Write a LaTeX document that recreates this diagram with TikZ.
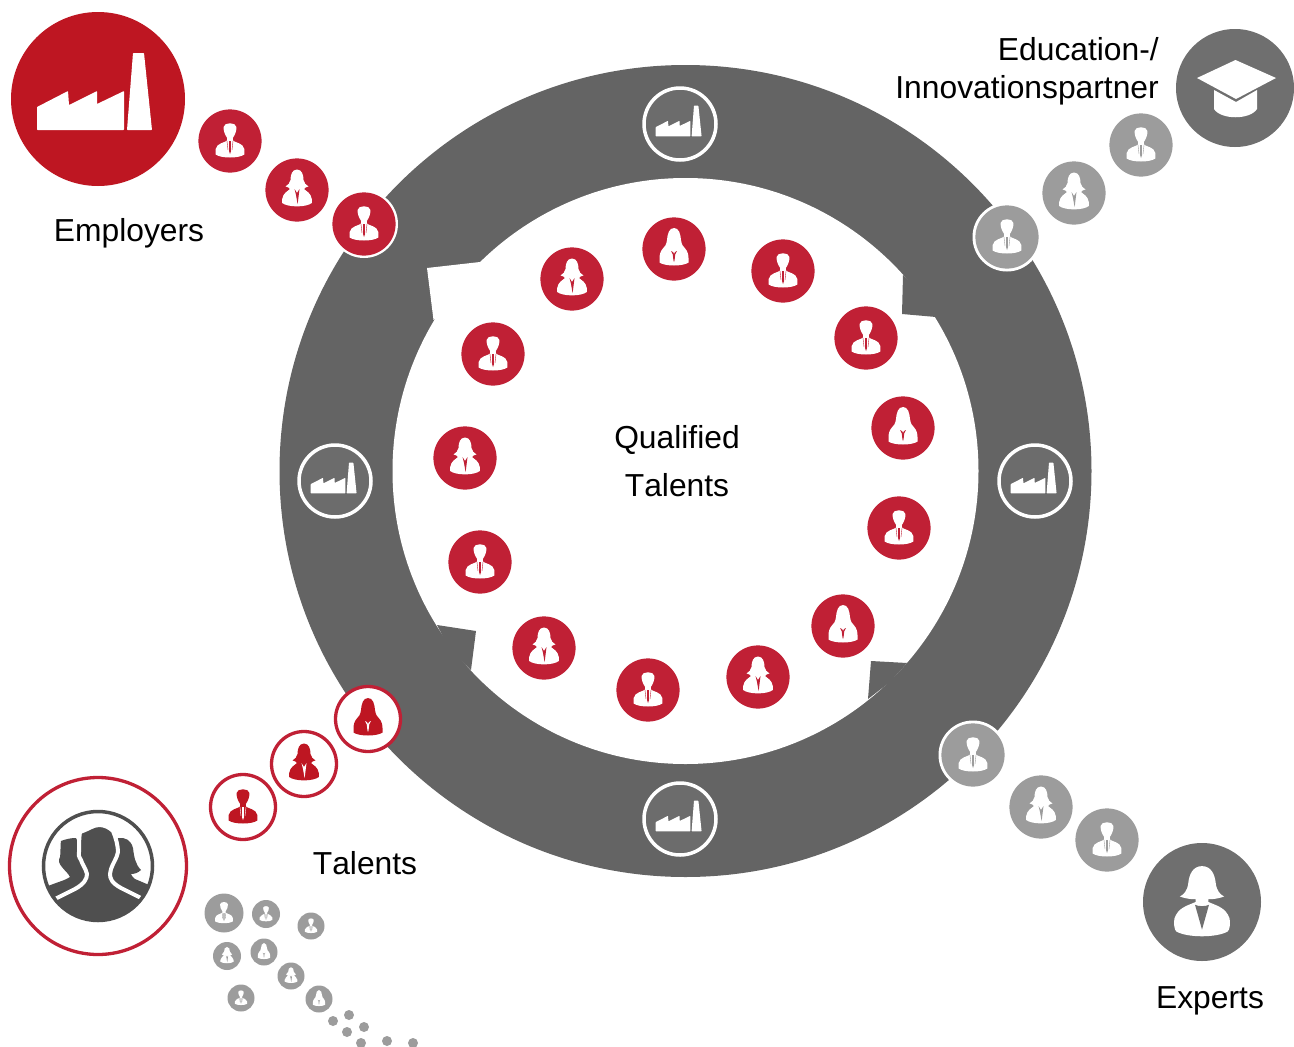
\documentclass[tikz,border=0pt]{standalone}
\usepackage{fontspec}
\setmainfont[Kerning=Off]{Liberation Sans}
\definecolor{ringgrey}{HTML}{646464}
\definecolor{badgegrey}{HTML}{6C6C6C}
\definecolor{darkgrey}{HTML}{6F6F6F}
\definecolor{midgrey}{HTML}{9C9C9C}
\definecolor{peoplegrey}{HTML}{4F4F4F}
\definecolor{bigred}{HTML}{BE1622}
\definecolor{smallred}{HTML}{C02035}
\tikzset{
  disc/.style={circle,inner sep=0pt,outer sep=0pt,draw=none},
  label text/.style={font=\fontsize{31.8}{38}\selectfont,text=black,inner sep=0pt,anchor=base},
  pics/man/.style n args={2}{code={
    \fill[#1] (-2.8,-3) .. controls (-5,-6) and (-6.6,-10) .. (-6.4,-14)
      .. controls (-6,-19) and (6,-19) .. (6.4,-14)
      .. controls (6.6,-10) and (5,-6) .. (2.8,-3) -- (2.8,-.5)
      .. controls (6,2) and (13,2) .. (14.3,8) -- (14.3,13.5)
      .. controls (9,17.5) and (-9,17.5) .. (-14.3,13.5) -- (-14.3,8)
      .. controls (-13,2) and (-6,2) .. (-2.8,-.5) -- cycle;
    \fill[#2] (-.8,0) -- (.8,0) -- (1,10) -- (0,13) -- (-1,10) -- cycle;
    \draw[#2,line width=.4pt] (-3,0) -- (-2,9) (3,0) -- (2,9);
  }},
  pics/flare/.style n args={2}{code={
    \fill[#1] (0,-20.5) .. controls (5,-20.5) and (6.5,-15) .. (6.5,-10)
      .. controls (7.5,-7) and (8.5,-5) .. (11.5,-3.5)
      .. controls (9,-3) and (8,-2.5) .. (7,-1)
      .. controls (9,1) and (14,3) .. (14.8,9) -- (14.8,13)
      .. controls (9,17.5) and (-9,17.5) .. (-14.8,13) -- (-14.8,9)
      .. controls (-14,3) and (-9,1) .. (-7,-1)
      .. controls (-8,-2.5) and (-9,-3) .. (-11.5,-3.5)
      .. controls (-8.5,-5) and (-7.5,-7) .. (-6.5,-10)
      .. controls (-6.5,-15) and (-5,-20.5) .. (0,-20.5) -- cycle;
    \fill[#2] (-2.5,-1) -- (0,3) -- (2.5,-1) -- (.9,12) -- (.6,14) -- (-1,5) -- cycle;
  }},
  pics/longhair/.style n args={2}{code={
    \fill[#1] (0,-21) .. controls (5,-21) and (6.5,-15) .. (7,-9)
      .. controls (7.5,-5) and (9,-2) .. (11.5,0)
      .. controls (13.5,2) and (14.5,6) .. (14.5,9) -- (14.5,13.5)
      .. controls (9,17.5) and (-9,17.5) .. (-14.5,13.5) -- (-14.5,9)
      .. controls (-14.5,6) and (-13.5,2) .. (-11.5,0)
      .. controls (-9,-2) and (-7.5,-5) .. (-7,-9)
      .. controls (-6.5,-15) and (-5,-21) .. (0,-21) -- cycle;
    \fill[#2] (-3,2) -- (-1,3) -- (0,5) -- (1,3) -- (3,2) -- (1.2,5.5) -- (.6,11) -- (0,13) -- (-.6,11) -- (-1.2,5.5) -- cycle;
  }},
  pics/bob/.style n args={2}{code={
    \fill[#1] (0,-19.5) .. controls (5,-19.5) and (7,-15) .. (7.5,-10)
      .. controls (8,-6) and (10,-4) .. (12,-3)
      .. controls (8,-1.5) and (5,-1.5) .. (3.5,-1.5) -- (3.5,0)
      .. controls (8,2) and (13,3) .. (15,9) .. controls (15.5,12) and (15,15) .. (14,16)
      .. controls (8,19.5) and (-8,19.5) .. (-14,16)
      .. controls (-15,15) and (-15.5,12) .. (-15,9)
      .. controls (-13,3) and (-8,2) .. (-3.5,0) -- (-3.5,-1.5)
      .. controls (-5,-1.5) and (-8,-1.5) .. (-12,-3)
      .. controls (-10,-4) and (-8,-6) .. (-7.5,-10)
      .. controls (-7,-15) and (-5,-19.5) .. (0,-19.5) -- cycle;
    \fill[#2] (-3.8,1.5) .. controls (-2,2.5) and (2,2.5) .. (3.8,1.5) -- (0,15) -- cycle;
  }},
  pics/factory/.style={code={
    \fill[white,rounded corners=.6pt] (-61,31) -- (26,31) -- (26,-8) -- (-1,5) -- (-1,-8) -- (-29,6) -- (-30,-8) -- (-61,8) -- cycle;
    \fill[white,rounded corners=.6pt] (29,31) -- (54,31) -- (46,-46) -- (35,-46) -- cycle;
  }},
  pics/gradcap/.style={code={
    \fill[white] (0.5,-28) -- (41,-10) -- (1,11) -- (-38,-10) -- cycle;
    \fill[white] (-21,2) -- (1,14) -- (22,2) -- (22,21) .. controls (15,32) and (-14,32) .. (-21,21) -- cycle;
  }},
  pics/people/.style={code={
    \begin{scope}
      \clip (0,0) circle[radius=54];
      \fill[white] (0,0) circle[radius=54];
      % left figure
      \fill[peoplegrey] (-37,-25) .. controls (-32,-27) and (-27,-28) .. (-22,-28)
        -- (-5,10) -- (-5,40) -- (-70,70) -- (-70,27) -- (-50,20)
        .. controls (-40,16) and (-32,14) .. (-28,11)
        .. controls (-30,7) and (-33,5) .. (-36,1)
        .. controls (-39,-2) and (-40,-6) .. (-38,-9)
        .. controls (-37,-14) and (-38,-20) .. (-37,-25) -- cycle;
      % right figure
      \fill[peoplegrey] (20,-28) .. controls (27,-29) and (33,-26) .. (35,-18)
        .. controls (36,-10) and (37,-2) .. (43,4)
        .. controls (40,7) and (36,8) .. (33,8)
        .. controls (34,10) and (35,12) .. (37,13) -- (70,27) -- (70,70) -- (5,40) -- (5,10) -- cycle;
      % main figure body and lower part
      \fill[peoplegrey] (-10,8) .. controls (-11,3) and (-15,-2) .. (-16,-6)
        .. controls (-18,-9) and (-19,-12) .. (-18,-14)
        .. controls (-18,-20) and (-18,-28) .. (-17,-33)
        .. controls (-10,-35) and (-5,-40) .. (1,-40)
        .. controls (6,-40) and (10,-38) .. (14,-34)
        .. controls (17,-28) and (19,-20) .. (19,-14)
        .. controls (18,-8) and (14,-3) .. (12,3) -- (11,8)
        .. controls (11,13) and (13,17) .. (22,22) -- (44,32) -- (44,70) -- (-44,70) -- (-44,32) -- (-22,22)
        .. controls (-13,17) and (-10,13) .. (-10,8) -- cycle;
      \draw[white,line width=4pt,line cap=round,line join=round]
        (-43,33) -- (-23,23) .. controls (-14,18) and (-11,13) .. (-11,8)
        .. controls (-12,3) and (-16,-2) .. (-17,-6)
        .. controls (-19,-9) and (-20,-12) .. (-19,-14)
        .. controls (-19,-20) and (-19,-28) .. (-18,-34)
        .. controls (-11,-36) and (-5,-41) .. (1,-41)
        .. controls (6,-41) and (11,-39) .. (15,-35)
        .. controls (18,-28) and (20,-20) .. (20,-14)
        .. controls (19,-8) and (15,-3) .. (13,3) -- (12,8)
        .. controls (12,13) and (14,17) .. (23,22) -- (43,32);
    \end{scope}
    \draw[peoplegrey,line width=3.5pt] (0,0) circle[radius=54.5];
  }},
}
\newcommand\PersonDisc[8]{% name, x, y, radius, fill, icon, fg, bg
  \node[disc,fill=#5,minimum size=#4*2pt] (#1) at (#2,#3) {};
  \pgfmathsetmacro\iconscale{#4/31.6}
  \path (#1) pic[scale=\iconscale] {#6={#7}{#8}};
}
\begin{document}
\begin{tikzpicture}[x=1pt,y=-1pt,line cap=butt]
\useasboundingbox (0,0) rectangle (1294,1047);
\fill[white] (0,0) rectangle (1294,1047);

% ring
\node[disc,fill=ringgrey,minimum size=812pt] (ring) at (685.5,471) {};
\node[disc,fill=white,minimum size=586pt] (hole) at (685.5,471) {};
\coordinate (nA) at (427,268);
\coordinate (nB) at (480,262);
\coordinate (nC) at (433.5,320);
\fill[white] (nA) -- (nB) -- (470,300) -- (nC) -- cycle;
\fill[ringgrey] (903,275) -- (902,314) -- (936,317) -- (925,295) -- cycle;
\fill[ringgrey] (437,625) -- (476,631) -- (471,670) -- (450,650) -- cycle;
\fill[ringgrey] (907,663) -- (871,661) -- (868,699) -- (890,682) -- cycle;

% factory badges
\foreach \n/\x/\y in {fa/680/124,fb/335/481,fc/1035/481,fd/680/819}{
  \node[disc,fill=badgegrey,draw=white,line width=3.5pt,minimum size=72pt] (\n) at (\x,\y) {};
  \path (\n) pic[scale=.4] {factory};
}

% inner ring of people
\PersonDisc{q1}{674}{249}{31.6}{smallred}{longhair}{white}{smallred}
\PersonDisc{q2}{783}{271}{31.6}{smallred}{man}{white}{smallred}
\PersonDisc{q3}{866}{338}{31.6}{smallred}{man}{white}{smallred}
\PersonDisc{q4}{903}{428}{31.6}{smallred}{longhair}{white}{smallred}
\PersonDisc{q5}{899}{528}{31.6}{smallred}{man}{white}{smallred}
\PersonDisc{q6}{843}{626}{31.6}{smallred}{longhair}{white}{smallred}
\PersonDisc{q7}{758}{677}{31.6}{smallred}{flare}{white}{smallred}
\PersonDisc{q8}{648}{690}{31.6}{smallred}{man}{white}{smallred}
\PersonDisc{q9}{544}{648}{31.6}{smallred}{flare}{white}{smallred}
\PersonDisc{q10}{480}{562}{31.6}{smallred}{man}{white}{smallred}
\PersonDisc{q11}{465}{458}{31.6}{smallred}{flare}{white}{smallred}
\PersonDisc{q12}{493}{354}{31.6}{smallred}{man}{white}{smallred}
\PersonDisc{q13}{572}{279}{31.6}{smallred}{flare}{white}{smallred}

% employers
\node[disc,fill=bigred,minimum size=174pt] (employers) at (98,99) {};
\path (employers) pic {factory};
\PersonDisc{e1}{230}{141}{31.6}{smallred}{man}{white}{smallred}
\PersonDisc{e2}{297}{190}{31.6}{smallred}{flare}{white}{smallred}
\fill[white] (364,224) circle[radius=34];
\PersonDisc{e3}{364}{224}{31.6}{smallred}{man}{white}{smallred}
\node[label text] (lemp) at (129,241.5) {Employers};

% education
\node[disc,fill=darkgrey,minimum size=118pt] (edu) at (1235,88) {};
\path (edu) pic {gradcap};
\PersonDisc{g1}{1141}{145}{31.6}{midgrey}{man}{white}{midgrey}
\PersonDisc{g2}{1074}{193}{31.6}{midgrey}{flare}{white}{midgrey}
\fill[white] (1007,237) circle[radius=34.5];
\PersonDisc{g3}{1007}{237}{31.6}{midgrey}{man}{white}{midgrey}
\node[label text,anchor=base east] (ledu1) at (1159,60) {Education-/};
\node[label text,anchor=base east] (ledu2) at (1159,98) {Innovationspartner};

% experts
\fill[white] (973,755) circle[radius=34.5];
\PersonDisc{x1}{973}{755}{31.6}{midgrey}{man}{white}{midgrey}
\PersonDisc{x2}{1041}{807}{31.6}{midgrey}{flare}{white}{midgrey}
\PersonDisc{x3}{1107}{840}{31.6}{midgrey}{man}{white}{midgrey}
\node[disc,fill=darkgrey,minimum size=118pt] (expert) at (1202,902) {};
\path (expert) pic[scale=1.84] {bob={white}{darkgrey}};
\node[label text] (lexp) at (1210,1008.5) {Experts};

% talents
\node[disc,fill=white,draw=smallred,line width=3.3pt,minimum size=177pt] (talents) at (98,866) {};
\path (talents) pic {people};
\foreach \n/\x/\y/\ic in {t1/243/807/man,t2/304/764/flare,t3/368/719/longhair}{
  \node[disc,fill=white,draw=smallred,line width=3.3pt,minimum size=65pt] (\n) at (\x,\y) {};
  \path (\n) pic {\ic={bigred}{white}};
}
\node[label text] (ltal) at (365,874) {Talents};

% small grey people
\PersonDisc{s1}{224}{913}{19.5}{midgrey}{man}{white}{midgrey}
\PersonDisc{s2}{266}{914}{14}{midgrey}{man}{white}{midgrey}
\PersonDisc{s3}{311}{926}{13.5}{midgrey}{man}{white}{midgrey}
\PersonDisc{s4}{227}{956}{14}{midgrey}{flare}{white}{midgrey}
\PersonDisc{s5}{264}{952}{13.5}{midgrey}{longhair}{white}{midgrey}
\PersonDisc{s6}{291}{976}{13.5}{midgrey}{flare}{white}{midgrey}
\PersonDisc{s7}{241}{998}{13.5}{midgrey}{man}{white}{midgrey}
\PersonDisc{s8}{319}{999}{13.5}{midgrey}{longhair}{white}{midgrey}
\foreach \n/\x/\y in {d1/333/1021,d2/349/1015,d3/364/1027,d4/347/1032,d5/361/1043,d6/387/1041,d7/413/1043}{
  \node[disc,fill=midgrey,minimum size=10pt] (\n) at (\x,\y) {};
}

% centre label
\node[label text] (lq1) at (677,448.5) {Qualified};
\node[label text] (lq2) at (677,496.5) {Talents};
\end{tikzpicture}
\end{document}
